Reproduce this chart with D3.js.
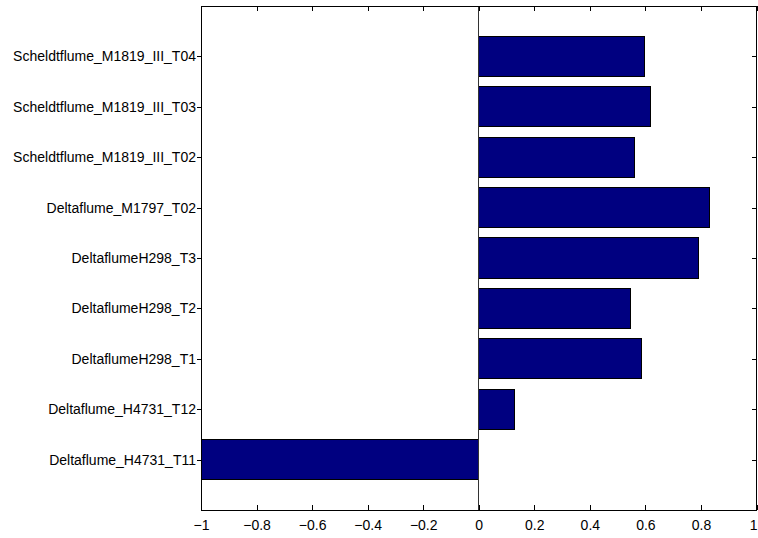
<!DOCTYPE html>
<html>
<head>
<meta charset="utf-8">
<script src="https://cdn.jsdelivr.net/npm/d3@7"></script>
<style>
  html, body { margin: 0; padding: 0; background: #fff; }
  svg { display: block; }
</style>
</head>
<body>
<svg id="chart" width="758" height="538"></svg>
<script>
// Test runs, listed bottom to top
const categories = [
  "Deltaflume_H4731_T11",
  "Deltaflume_H4731_T12",
  "DeltaflumeH298_T1",
  "DeltaflumeH298_T2",
  "DeltaflumeH298_T3",
  "Deltaflume_M1797_T02",
  "Scheldtflume_M1819_III_T02",
  "Scheldtflume_M1819_III_T03",
  "Scheldtflume_M1819_III_T04"
];
const values = [-1.0, 0.127, 0.587, 0.548, 0.79, 0.83, 0.559, 0.62, 0.597];
const xTicks = [-1, -0.8, -0.6, -0.4, -0.2, 0, 0.2, 0.4, 0.6, 0.8, 1];
const xTickLabels = ["\u22121", "\u22120.8", "\u22120.6", "\u22120.4", "\u22120.2", "0", "0.2", "0.4", "0.6", "0.8", "1"];

const svg = d3.select("#chart");
const plotLeft = 201, plotRight = 756.5, plotTop = 6, plotBottom = 510;
const fontFamily = "'Liberation Sans', Arial, Helvetica, sans-serif";

const x = d3.scaleLinear().domain([-1, 1]).range([plotLeft, plotRight]);
// categorical positions 1..n with half-unit margins, like a numeric y axis
const y = d3.scaleLinear().domain([0, categories.length + 1]).range([plotBottom, plotTop]);
const barH = (y(0) - y(1)) * 0.8;

const data = categories.map((c, i) => ({ name: c, pos: i + 1, value: values[i] }));

// bars
svg.append("g").selectAll("rect").data(data).join("rect")
  .attr("x", d => x(Math.min(0, d.value)))
  .attr("width", d => Math.abs(x(d.value) - x(0)))
  .attr("y", d => y(d.pos) - barH / 2)
  .attr("height", barH)
  .attr("fill", "#000080")
  .attr("stroke", "#000")
  .attr("stroke-width", 1)
  .attr("shape-rendering", "crispEdges");

// baseline at zero
svg.append("line")
  .attr("x1", x(0)).attr("x2", x(0))
  .attr("y1", plotTop).attr("y2", plotBottom)
  .attr("stroke", "#333").attr("stroke-width", 1)
  .attr("shape-rendering", "crispEdges");

// bottom axis, ticks pointing inward
const xAxis = d3.axisBottom(x).tickValues(xTicks)
  .tickFormat((d, i) => xTickLabels[i]).tickSize(-5).tickPadding(10);
const gx = svg.append("g").attr("transform", `translate(0,${plotBottom})`).call(xAxis);
gx.select(".domain").remove();

// top ticks (no labels)
const gxt = svg.append("g").attr("transform", `translate(0,${plotTop})`)
  .call(d3.axisTop(x).tickValues(xTicks).tickFormat("").tickSize(-5));
gxt.select(".domain").remove();

// left axis with category labels, ticks outward
const yAxis = d3.axisLeft(y).tickValues(data.map(d => d.pos))
  .tickFormat((d, i) => categories[i]).tickSize(4).tickPadding(1);
const gy = svg.append("g").attr("transform", `translate(${plotLeft},0)`).call(yAxis);
gy.select(".domain").remove();

// right ticks pointing inward
const gyr = svg.append("g").attr("transform", `translate(${plotRight},0)`)
  .call(d3.axisRight(y).tickValues(data.map(d => d.pos)).tickFormat("").tickSize(-5));
gyr.select(".domain").remove();

svg.selectAll(".tick line").attr("stroke", "#000").attr("shape-rendering", "crispEdges");
svg.selectAll(".tick text")
  .attr("font-family", fontFamily)
  .attr("font-size", 14)
  .attr("fill", "#000");

// keep the last x label inside the page edge
gx.selectAll(".tick text").filter(d => d === 1)
  .attr("text-anchor", "end").attr("dx", 0.5);

// axes box
svg.append("rect")
  .attr("x", plotLeft).attr("y", plotTop)
  .attr("width", plotRight - plotLeft).attr("height", plotBottom - plotTop)
  .attr("fill", "none").attr("stroke", "#000").attr("stroke-width", 1)
  .attr("shape-rendering", "crispEdges");
</script>
</body>
</html>
